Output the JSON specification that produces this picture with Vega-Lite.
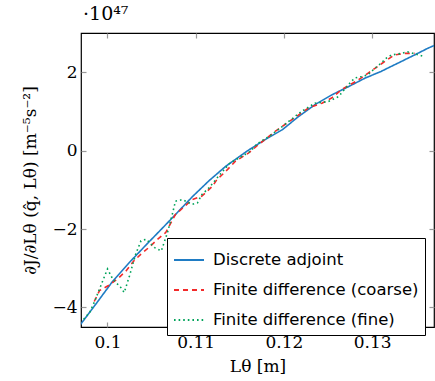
{
  "$schema": "https://vega.github.io/schema/vega-lite/v6.json",
  "width": 353,
  "height": 294,
  "autosize": "none",
  "padding": {"left": 81, "top": 33, "right": 1, "bottom": 54},
  "background": "white",
  "title": {"text": "·10⁴⁷", "anchor": "start", "frame": "group", "offset": 8, "dx": 2, "font": "DejaVu Serif", "fontSize": 19, "fontWeight": "normal", "color": "black"},
  "config": {
    "view": {"stroke": "black", "strokeWidth": 1.2},
    "axis": {"domain": false, "grid": false, "tickColor": "#999999", "tickSize": -5, "tickWidth": 1.2, "labelFont": "DejaVu Serif", "labelFontSize": 17, "labelColor": "black", "titleFont": "DejaVu Serif", "titleFontSize": 17, "titleColor": "black", "titleFontWeight": "normal"}
  },
  "datasets": {
    "curves": [
      {"L": 0.0969, "g": -4.45, "s": "Discrete adjoint"},
      {"L": 0.0988, "g": -3.88, "s": "Discrete adjoint"},
      {"L": 0.1006, "g": -3.33, "s": "Discrete adjoint"},
      {"L": 0.1025, "g": -2.85, "s": "Discrete adjoint"},
      {"L": 0.1044, "g": -2.40, "s": "Discrete adjoint"},
      {"L": 0.1060, "g": -2.03, "s": "Discrete adjoint"},
      {"L": 0.1075, "g": -1.68, "s": "Discrete adjoint"},
      {"L": 0.1096, "g": -1.18, "s": "Discrete adjoint"},
      {"L": 0.1115, "g": -0.77, "s": "Discrete adjoint"},
      {"L": 0.1134, "g": -0.40, "s": "Discrete adjoint"},
      {"L": 0.1159, "g": 0.0, "s": "Discrete adjoint"},
      {"L": 0.1178, "g": 0.27, "s": "Discrete adjoint"},
      {"L": 0.1198, "g": 0.53, "s": "Discrete adjoint"},
      {"L": 0.1216, "g": 0.86, "s": "Discrete adjoint"},
      {"L": 0.1235, "g": 1.17, "s": "Discrete adjoint"},
      {"L": 0.1254, "g": 1.42, "s": "Discrete adjoint"},
      {"L": 0.1273, "g": 1.63, "s": "Discrete adjoint"},
      {"L": 0.1292, "g": 1.85, "s": "Discrete adjoint"},
      {"L": 0.1310, "g": 2.02, "s": "Discrete adjoint"},
      {"L": 0.1329, "g": 2.23, "s": "Discrete adjoint"},
      {"L": 0.1348, "g": 2.44, "s": "Discrete adjoint"},
      {"L": 0.1363, "g": 2.61, "s": "Discrete adjoint"},
      {"L": 0.1370, "g": 2.68, "s": "Discrete adjoint"},

      {"L": 0.0985, "g": -3.85, "s": "Finite difference (coarse)"},
      {"L": 0.0991, "g": -3.57, "s": "Finite difference (coarse)"},
      {"L": 0.1002, "g": -3.43, "s": "Finite difference (coarse)"},
      {"L": 0.1012, "g": -3.26, "s": "Finite difference (coarse)"},
      {"L": 0.1021, "g": -3.07, "s": "Finite difference (coarse)"},
      {"L": 0.1030, "g": -2.81, "s": "Finite difference (coarse)"},
      {"L": 0.1038, "g": -2.64, "s": "Finite difference (coarse)"},
      {"L": 0.1047, "g": -2.47, "s": "Finite difference (coarse)"},
      {"L": 0.1057, "g": -2.26, "s": "Finite difference (coarse)"},
      {"L": 0.1066, "g": -2.09, "s": "Finite difference (coarse)"},
      {"L": 0.1077, "g": -1.63, "s": "Finite difference (coarse)"},
      {"L": 0.1096, "g": -1.25, "s": "Finite difference (coarse)"},
      {"L": 0.1107, "g": -1.16, "s": "Finite difference (coarse)"},
      {"L": 0.1119, "g": -0.91, "s": "Finite difference (coarse)"},
      {"L": 0.1124, "g": -0.74, "s": "Finite difference (coarse)"},
      {"L": 0.1134, "g": -0.53, "s": "Finite difference (coarse)"},
      {"L": 0.1145, "g": -0.27, "s": "Finite difference (coarse)"},
      {"L": 0.1160, "g": -0.06, "s": "Finite difference (coarse)"},
      {"L": 0.1171, "g": 0.15, "s": "Finite difference (coarse)"},
      {"L": 0.1190, "g": 0.49, "s": "Finite difference (coarse)"},
      {"L": 0.1209, "g": 0.79, "s": "Finite difference (coarse)"},
      {"L": 0.1228, "g": 1.09, "s": "Finite difference (coarse)"},
      {"L": 0.1243, "g": 1.21, "s": "Finite difference (coarse)"},
      {"L": 0.1254, "g": 1.34, "s": "Finite difference (coarse)"},
      {"L": 0.1265, "g": 1.55, "s": "Finite difference (coarse)"},
      {"L": 0.1284, "g": 1.80, "s": "Finite difference (coarse)"},
      {"L": 0.1295, "g": 1.97, "s": "Finite difference (coarse)"},
      {"L": 0.1314, "g": 2.27, "s": "Finite difference (coarse)"},
      {"L": 0.1325, "g": 2.44, "s": "Finite difference (coarse)"},
      {"L": 0.1337, "g": 2.48, "s": "Finite difference (coarse)"},
      {"L": 0.1348, "g": 2.48, "s": "Finite difference (coarse)"},

      {"L": 0.0973, "g": -4.30, "s": "Finite difference (fine)"},
      {"L": 0.0980, "g": -4.12, "s": "Finite difference (fine)"},
      {"L": 0.0985, "g": -3.87, "s": "Finite difference (fine)"},
      {"L": 0.0991, "g": -3.53, "s": "Finite difference (fine)"},
      {"L": 0.0997, "g": -3.19, "s": "Finite difference (fine)"},
      {"L": 0.1000, "g": -3.02, "s": "Finite difference (fine)"},
      {"L": 0.1006, "g": -3.28, "s": "Finite difference (fine)"},
      {"L": 0.1015, "g": -3.49, "s": "Finite difference (fine)"},
      {"L": 0.1019, "g": -3.62, "s": "Finite difference (fine)"},
      {"L": 0.1025, "g": -3.19, "s": "Finite difference (fine)"},
      {"L": 0.1032, "g": -2.64, "s": "Finite difference (fine)"},
      {"L": 0.1038, "g": -2.30, "s": "Finite difference (fine)"},
      {"L": 0.1044, "g": -2.26, "s": "Finite difference (fine)"},
      {"L": 0.1053, "g": -2.47, "s": "Finite difference (fine)"},
      {"L": 0.1061, "g": -2.56, "s": "Finite difference (fine)"},
      {"L": 0.1068, "g": -2.09, "s": "Finite difference (fine)"},
      {"L": 0.1074, "g": -1.58, "s": "Finite difference (fine)"},
      {"L": 0.1077, "g": -1.29, "s": "Finite difference (fine)"},
      {"L": 0.1085, "g": -1.25, "s": "Finite difference (fine)"},
      {"L": 0.1096, "g": -1.37, "s": "Finite difference (fine)"},
      {"L": 0.1102, "g": -1.33, "s": "Finite difference (fine)"},
      {"L": 0.1107, "g": -1.12, "s": "Finite difference (fine)"},
      {"L": 0.1115, "g": -0.95, "s": "Finite difference (fine)"},
      {"L": 0.1126, "g": -0.65, "s": "Finite difference (fine)"},
      {"L": 0.1139, "g": -0.31, "s": "Finite difference (fine)"},
      {"L": 0.1149, "g": -0.19, "s": "Finite difference (fine)"},
      {"L": 0.1162, "g": -0.02, "s": "Finite difference (fine)"},
      {"L": 0.1170, "g": 0.18, "s": "Finite difference (fine)"},
      {"L": 0.1183, "g": 0.36, "s": "Finite difference (fine)"},
      {"L": 0.1195, "g": 0.56, "s": "Finite difference (fine)"},
      {"L": 0.1205, "g": 0.74, "s": "Finite difference (fine)"},
      {"L": 0.1220, "g": 1.00, "s": "Finite difference (fine)"},
      {"L": 0.1235, "g": 1.21, "s": "Finite difference (fine)"},
      {"L": 0.1250, "g": 1.25, "s": "Finite difference (fine)"},
      {"L": 0.1262, "g": 1.38, "s": "Finite difference (fine)"},
      {"L": 0.1273, "g": 1.68, "s": "Finite difference (fine)"},
      {"L": 0.1280, "g": 1.85, "s": "Finite difference (fine)"},
      {"L": 0.1288, "g": 1.89, "s": "Finite difference (fine)"},
      {"L": 0.1295, "g": 1.93, "s": "Finite difference (fine)"},
      {"L": 0.1303, "g": 2.10, "s": "Finite difference (fine)"},
      {"L": 0.1310, "g": 2.23, "s": "Finite difference (fine)"},
      {"L": 0.1316, "g": 2.36, "s": "Finite difference (fine)"},
      {"L": 0.1322, "g": 2.44, "s": "Finite difference (fine)"},
      {"L": 0.1333, "g": 2.48, "s": "Finite difference (fine)"},
      {"L": 0.1340, "g": 2.52, "s": "Finite difference (fine)"},
      {"L": 0.1348, "g": 2.47, "s": "Finite difference (fine)"},
      {"L": 0.1357, "g": 2.41, "s": "Finite difference (fine)"}
    ]
  },
  "layer": [
    {
      "mark": {"type": "rule", "color": "black", "strokeWidth": 1.2},
      "encoding": {"y": {"datum": 0, "type": "quantitative", "scale": {"domain": [-4.5, 3]}, "axis": null}}
    },
    {
      "data": {"name": "curves"},
      "mark": {"type": "line", "strokeWidth": 1.6, "clip": true},
      "encoding": {
        "x": {"field": "L", "type": "quantitative", "scale": {"domain": [0.097, 0.137], "nice": false, "zero": false}, "axis": {"values": [0.1, 0.11, 0.12, 0.13], "format": "~g", "labelPadding": 12, "title": "Lθ [m]", "titlePadding": 8}},
        "y": {"field": "g", "type": "quantitative", "scale": {"domain": [-4.5, 3], "nice": false, "zero": false}, "axis": {"values": [-4, -2, 0, 2], "labelPadding": 9, "title": "∂J/∂Lθ (q̂, Lθ) [m⁻⁵s⁻²]", "titlePadding": 12}},
        "color": {"field": "s", "type": "nominal", "scale": {"domain": ["Discrete adjoint", "Finite difference (coarse)", "Finite difference (fine)"], "range": ["#1f7cc4", "#f22a2a", "#00a35a"]},
          "legend": {"orient": "none", "legendX": 86, "legendY": 205, "title": null, "fillColor": "white", "strokeColor": "black", "padding": 6, "symbolType": "stroke", "symbolSize": 900, "symbolStrokeWidth": 2, "labelFont": "DejaVu Sans", "labelFontSize": 16.5, "labelColor": "black", "labelOffset": 8, "rowPadding": 5, "labelLimit": 300,
            "labelExpr": "datum.label == 'Discrete adjoint' ? '\u00a0\u00a0\u00a0\u00a0\u00a0\u00a0\u00a0Discrete adjoint' : (datum.label == 'Finite difference (fine)' ? '\u00a0\u00a0Finite difference (fine)' : datum.label)"}},
        "strokeDash": {"field": "s", "type": "nominal", "scale": {"domain": ["Discrete adjoint", "Finite difference (coarse)", "Finite difference (fine)"], "range": [[1, 0], [5, 4], [1.6, 3]]}, "legend": null}
      }
    },
    {
      "data": {"name": "curves"},
      "mark": {"type": "line", "opacity": 0},
      "encoding": {
        "x": {"field": "L", "type": "quantitative", "axis": {"orient": "top", "values": [0.1, 0.11, 0.12, 0.13], "labels": false, "title": null}},
        "y": {"field": "g", "type": "quantitative", "axis": {"orient": "right", "values": [-4, -2, 0, 2], "labels": false, "title": null}}
      }
    }
  ],
  "resolve": {"axis": {"x": "independent", "y": "independent"}}
}
